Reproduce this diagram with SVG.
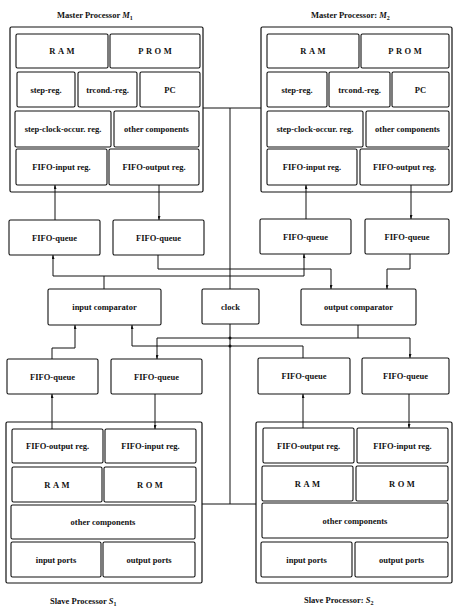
<svg xmlns="http://www.w3.org/2000/svg" width="454" height="609" viewBox="0 0 454 609">
<style>
  .frame { fill: none; stroke: #111; stroke-width: 1.2; }
  .box { fill: #fff; stroke: #111; stroke-width: 1.1; }
  .lbl { font-family: "Liberation Serif", "Times New Roman", serif; font-weight: bold; font-size: 8.5px; fill: #111; text-anchor: middle; }
  .sp { letter-spacing: 2.5px; }
  .title { font-family: "Liberation Serif", "Times New Roman", serif; font-weight: bold; font-size: 8.5px; fill: #111; }
  .it { font-style: italic; }
  .sub { font-size: 6px; }
  .wire { fill: none; stroke: #111; stroke-width: 1; }
  .arr { marker-end: url(#ah); }
</style>
<defs>
  <marker id="ah" markerUnits="userSpaceOnUse" markerWidth="4" markerHeight="3" refX="4" refY="1.5" orient="auto">
    <path d="M0,0 L4,1.5 L0,3 z" fill="#111"/>
  </marker>
</defs>
<rect width="454" height="609" fill="#fff"/>

<g id="connectors">
  <!-- clock bus -->
  <path class="wire" d="M203,108 H261"/>
  <path class="wire" d="M230,108 V289"/>
  <path class="wire" d="M230,324 V504"/>
  <path class="wire" d="M202,504 H256"/>
  <!-- masters FIFO regs to queues -->
  <path class="wire arr" d="M55,220 V185"/>
  <path class="wire arr" d="M159,185 V220"/>
  <path class="wire arr" d="M306,219 V185"/>
  <path class="wire arr" d="M411,185 V219"/>
  <!-- input comparator to master input queues -->
  <path class="wire" d="M104,289 V276"/>
  <path class="wire arr" d="M104,276 H53 V255"/>
  <path class="wire arr" d="M104,276 H304 V254"/>
  <!-- master output queues to output comparator -->
  <path class="wire arr" d="M158,255 V269 H331 V289"/>
  <path class="wire arr" d="M410,254 V269 H387 V289"/>
  <!-- output comparator to slave input queues -->
  <path class="wire" d="M358,325 V338"/>
  <path class="wire arr" d="M358,338 H157 V359"/>
  <path class="wire arr" d="M358,338 H410 V358"/>
  <path class="wire arr" d="M155,394 V429"/>
  <path class="wire arr" d="M409,394 V428"/>
  <!-- slave output regs to input comparator -->
  <path class="wire arr" d="M52,429 V394"/>
  <path class="wire arr" d="M52,359 V348 H75 V325"/>
  <path class="wire arr" d="M303,428 V394"/>
  <path class="wire arr" d="M303,358 V346 H132 V325"/>
  <circle cx="230" cy="338" r="1.5" fill="#111"/>
  <circle cx="230" cy="346" r="1.5" fill="#111"/>
</g>

<g id="master1">
  <text class="title" x="57" y="18">Master Processor <tspan class="it">M</tspan><tspan class="sub" dy="2">1</tspan></text>
  <rect class="frame" x="10" y="27" width="193" height="165" rx="1.5"/>
  <g id="m1-ram"><rect class="box" x="16" y="34" width="92" height="34" rx="1.5"/><text class="lbl sp" x="63.2" y="54">RAM</text></g>
  <g id="m1-prom"><rect class="box" x="110" y="34" width="90" height="34" rx="1.5"/><text class="lbl sp" x="156.2" y="54">PROM</text></g>
  <g id="m1-stepreg"><rect class="box" x="17" y="72" width="58" height="35" rx="1.5"/><text class="lbl" x="46" y="92.5">step-reg.</text></g>
  <g id="m1-trcond"><rect class="box" x="78" y="72" width="59" height="35" rx="1.5"/><text class="lbl" x="107.5" y="92.5">trcond.-reg.</text></g>
  <g id="m1-pc"><rect class="box" x="140" y="72" width="60" height="35" rx="1.5"/><text class="lbl" x="170" y="92.5">PC</text></g>
  <g id="m1-sco"><rect class="box" x="15" y="111" width="96" height="36" rx="1.5"/><text class="lbl" x="63" y="132">step-clock-occur. reg.</text></g>
  <g id="m1-other"><rect class="box" x="114" y="111" width="85" height="36" rx="1.5"/><text class="lbl" x="156.5" y="132">other components</text></g>
  <g id="m1-fin"><rect class="box" x="16" y="149" width="91" height="36" rx="1.5"/><text class="lbl" x="61.5" y="170">FIFO-input reg.</text></g>
  <g id="m1-fout"><rect class="box" x="109" y="149" width="90" height="36" rx="1.5"/><text class="lbl" x="154" y="170">FIFO-output reg.</text></g>
</g>

<g id="master2">
  <text class="title" x="311" y="18">Master Processor: <tspan class="it">M</tspan><tspan class="sub" dy="2">2</tspan></text>
  <rect class="frame" x="261" y="27" width="191" height="165" rx="1.5"/>
  <g id="m2-ram"><rect class="box" x="267" y="34" width="92" height="34" rx="1.5"/><text class="lbl sp" x="314.2" y="54">RAM</text></g>
  <g id="m2-prom"><rect class="box" x="361" y="34" width="88" height="34" rx="1.5"/><text class="lbl sp" x="406.2" y="54">PROM</text></g>
  <g id="m2-stepreg"><rect class="box" x="267" y="72" width="60" height="35" rx="1.5"/><text class="lbl" x="297" y="92.5">step-reg.</text></g>
  <g id="m2-trcond"><rect class="box" x="329" y="72" width="61" height="35" rx="1.5"/><text class="lbl" x="359.5" y="92.5">trcond.-reg.</text></g>
  <g id="m2-pc"><rect class="box" x="392" y="72" width="57" height="35" rx="1.5"/><text class="lbl" x="420.5" y="92.5">PC</text></g>
  <g id="m2-sco"><rect class="box" x="267" y="111" width="96" height="36" rx="1.5"/><text class="lbl" x="315" y="132">step-clock-occur. reg.</text></g>
  <g id="m2-other"><rect class="box" x="366" y="111" width="83" height="36" rx="1.5"/><text class="lbl" x="407.5" y="132">other components</text></g>
  <g id="m2-fin"><rect class="box" x="267" y="149" width="90" height="36" rx="1.5"/><text class="lbl" x="312" y="170">FIFO-input reg.</text></g>
  <g id="m2-fout"><rect class="box" x="360" y="149" width="89" height="36" rx="1.5"/><text class="lbl" x="404.5" y="170">FIFO-output reg.</text></g>
</g>

<g id="queue-m1-in"><rect class="box" x="9" y="220" width="91" height="35" rx="1.5"/><text class="lbl" x="54.5" y="240.5">FIFO-queue</text></g>
<g id="queue-m1-out"><rect class="box" x="113" y="220" width="91" height="35" rx="1.5"/><text class="lbl" x="158.5" y="240.5">FIFO-queue</text></g>
<g id="queue-m2-in"><rect class="box" x="260" y="219" width="91" height="35" rx="1.5"/><text class="lbl" x="305.5" y="239.5">FIFO-queue</text></g>
<g id="queue-m2-out"><rect class="box" x="365" y="219" width="84" height="35" rx="1.5"/><text class="lbl" x="407" y="239.5">FIFO-queue</text></g>

<g id="input-comparator"><rect class="box" x="48" y="289" width="113" height="36" rx="1.5"/><text class="lbl" x="104.5" y="310">input comparator</text></g>
<g id="clock"><rect class="box" x="202" y="289" width="57" height="35" rx="1.5"/><text class="lbl" x="230.5" y="309.5">clock</text></g>
<g id="output-comparator"><rect class="box" x="301" y="289" width="115" height="36" rx="1.5"/><text class="lbl" x="358.5" y="310">output comparator</text></g>

<g id="queue-s1-out"><rect class="box" x="7" y="359" width="91" height="35" rx="1.5"/><text class="lbl" x="52.5" y="379.5">FIFO-queue</text></g>
<g id="queue-s1-in"><rect class="box" x="111" y="359" width="91" height="35" rx="1.5"/><text class="lbl" x="156.5" y="379.5">FIFO-queue</text></g>
<g id="queue-s2-out"><rect class="box" x="258" y="358" width="92" height="36" rx="1.5"/><text class="lbl" x="304" y="379">FIFO-queue</text></g>
<g id="queue-s2-in"><rect class="box" x="362" y="358" width="87" height="36" rx="1.5"/><text class="lbl" x="405.5" y="379">FIFO-queue</text></g>

<g id="slave1">
  <rect class="frame" x="6" y="422" width="196" height="161" rx="1.5"/>
  <g id="s1-fout"><rect class="box" x="12" y="429" width="91" height="34" rx="1.5"/><text class="lbl" x="57.5" y="449">FIFO-output reg.</text></g>
  <g id="s1-fin"><rect class="box" x="105" y="429" width="91" height="34" rx="1.5"/><text class="lbl" x="150.5" y="449">FIFO-input reg.</text></g>
  <g id="s1-ram"><rect class="box" x="12" y="467" width="90" height="35" rx="1.5"/><text class="lbl sp" x="58.2" y="487.5">RAM</text></g>
  <g id="s1-rom"><rect class="box" x="104" y="467" width="92" height="35" rx="1.5"/><text class="lbl sp" x="151.2" y="487.5">ROM</text></g>
  <g id="s1-other"><rect class="box" x="11" y="505" width="184" height="34" rx="1.5"/><text class="lbl" x="103" y="525">other components</text></g>
  <g id="s1-inp"><rect class="box" x="11" y="542" width="90" height="35" rx="1.5"/><text class="lbl" x="56" y="562.5">input ports</text></g>
  <g id="s1-outp"><rect class="box" x="103" y="542" width="92" height="35" rx="1.5"/><text class="lbl" x="149" y="562.5">output ports</text></g>
  <text class="title" x="50" y="604">Slave Processor   <tspan class="it">S</tspan><tspan class="sub" dy="2">1</tspan></text>
</g>

<g id="slave2">
  <rect class="frame" x="256" y="422" width="196" height="161" rx="1.5"/>
  <g id="s2-fout"><rect class="box" x="263" y="428" width="91" height="35" rx="1.5"/><text class="lbl" x="308.5" y="448.5">FIFO-output reg.</text></g>
  <g id="s2-fin"><rect class="box" x="357" y="428" width="91" height="35" rx="1.5"/><text class="lbl" x="402.5" y="448.5">FIFO-input reg.</text></g>
  <g id="s2-ram"><rect class="box" x="262" y="466" width="91" height="35" rx="1.5"/><text class="lbl sp" x="308.7" y="486.5">RAM</text></g>
  <g id="s2-rom"><rect class="box" x="356" y="466" width="92" height="35" rx="1.5"/><text class="lbl sp" x="403.2" y="486.5">ROM</text></g>
  <g id="s2-other"><rect class="box" x="262" y="503" width="186" height="35" rx="1.5"/><text class="lbl" x="355" y="523.5">other components</text></g>
  <g id="s2-inp"><rect class="box" x="261" y="542" width="91" height="35" rx="1.5"/><text class="lbl" x="306.5" y="562.5">input ports</text></g>
  <g id="s2-outp"><rect class="box" x="355" y="542" width="93" height="35" rx="1.5"/><text class="lbl" x="401.5" y="562.5">output ports</text></g>
  <text class="title" x="304" y="603">Slave Processor: <tspan class="it">S</tspan><tspan class="sub" dy="2">2</tspan></text>
</g>
</svg>
